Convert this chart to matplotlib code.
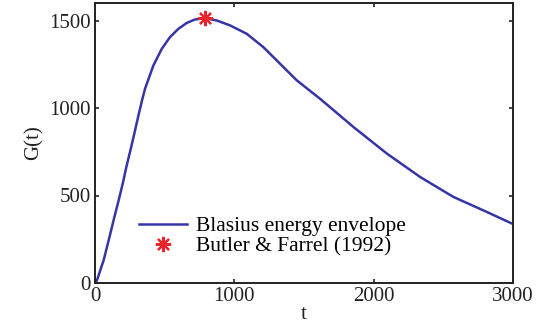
"""Transient energy growth envelope for the Blasius boundary layer."""

import matplotlib

matplotlib.use("Agg")
import matplotlib.pyplot as plt

# energy envelope G(t) sampled along the curve
t_values = [0, 14, 38, 62, 86, 110, 139, 170, 199, 225, 254, 282, 309, 337,
            359, 419, 479, 538, 598, 658, 718, 790, 874, 969, 1089, 1208,
            1256, 1448, 1615, 1854, 2094, 2333, 2572, 2812, 3000]
g_values = [0, 15, 73, 130, 206, 282, 377, 473, 568, 663, 758, 853, 948, 1042,
            1110, 1243, 1338, 1405, 1452, 1486, 1506, 1513, 1500, 1472, 1424, 1348,
            1310, 1158, 1053, 892, 740, 606, 492, 406, 337]

# Butler & Farrel (1992) optimum
ref_t = [790]
ref_g = [1513]

x_ticks = [0, 1000, 2000, 3000]
y_ticks = [0, 500, 1000, 1500]

plt.rcParams["font.family"] = ["Liberation Serif", "DejaVu Serif"]

fig = plt.figure(figsize=(5.47, 3.31), dpi=100)
ax = fig.add_axes([95 / 547, 48 / 331, 418 / 547, 280 / 331])

ax.plot(t_values, g_values, color="#3535a5", linewidth=1.8,
        solid_joinstyle="round", label="Blasius energy envelope")
ax.plot(ref_t, ref_g, linestyle="none", marker=(8, 2, 0), markersize=11,
        color="#e8262b", markeredgewidth=1.6, label="Butler & Farrel (1992)")

ax.set_xlim(0, 3000)
ax.set_ylim(0, 1600)
ax.set_xticks(x_ticks)
ax.set_yticks(y_ticks)
ax.tick_params(direction="in", length=3, width=1.2, top=True, right=True,
               labelsize=15, colors="#222222", pad=3)
for spine in ax.spines.values():
    spine.set_linewidth(1.4)
    spine.set_color("#222222")

ax.set_xlabel("t", fontsize=15, color="#222222", labelpad=-1)
ax.set_ylabel("G(t)", fontsize=15, color="#222222", labelpad=4)

ax.legend(loc="lower left", bbox_to_anchor=(0.085, 0.065), frameon=False, fontsize=15.5,
          handlelength=2.2, handletextpad=0.45, labelspacing=0.0, borderaxespad=0)

fig.savefig("out.png", dpi=100, facecolor="white")
